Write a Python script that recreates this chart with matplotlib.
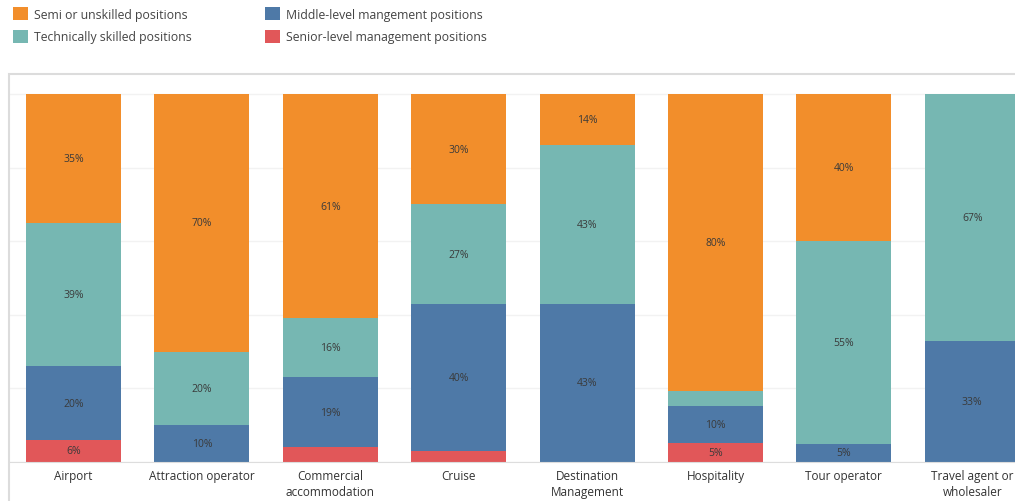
import matplotlib.pyplot as plt
from matplotlib.patches import Rectangle
import numpy as np

plt.rcParams['font.family'] = ['Open Sans', 'DejaVu Sans']

categories = ["Airport", "Attraction operator", "Commercial\naccommodation", "Cruise",
              "Destination\nManagement", "Hospitality", "Tour operator", "Travel agent or\nwholesaler"]
senior = [6, 0, 4, 3, 0, 5, 0, 0]
middle = [20, 10, 19, 40, 43, 10, 5, 33]
technical = [39, 20, 16, 27, 43, 4, 55, 67]
semi = [35, 70, 61, 30, 14, 80, 40, 0]

series = [
    ("Senior-level management positions", senior, "#E15759"),
    ("Middle-level mangement positions", middle, "#4E79A7"),
    ("Technically skilled positions", technical, "#76B7B2"),
    ("Semi or unskilled positions", semi, "#F28E2B"),
]

W, H = 1015, 502
fig = plt.figure(figsize=(W / 100, H / 100), dpi=100)
ax = fig.add_axes([9.3 / W, 39 / H, 1027.2 / W, 388 / H])

x = np.arange(len(categories))
raw = np.array([s[1] for s in series], dtype=float)
totals = raw.sum(axis=0)
norm = raw / totals * 100  # 100% stacked

bottom = np.zeros(len(categories))
handles = {}
for (name, vals, color), h in zip(series, norm):
    bars = ax.bar(x, h, 0.74, bottom=bottom, color=color, zorder=2, label=name)
    handles[name] = bars
    for xi, b, hh, v in zip(x, bottom, h, vals):
        if v >= 5:
            ax.text(xi, b + hh / 2, f"{v}%", ha="center", va="center",
                    fontsize=7.5, color="#3a3a3a", zorder=3)
    bottom += h

ax.set_xlim(-0.5, 7.5)
ax.set_ylim(0, 105.4)
ax.set_yticks([0, 20, 40, 60, 80, 100])
ax.yaxis.grid(True, color="#f2f2f2", lw=1, zorder=0)
ax.tick_params(axis="y", left=False, labelleft=False)
ax.tick_params(axis="x", length=0, pad=5)
ax.set_xticks(x)
ax.set_xticklabels(categories, fontsize=8.5, color="#333333", linespacing=1.3)
for s in ["top", "right", "left"]:
    ax.spines[s].set_visible(False)
ax.spines["bottom"].set_color("#dddddd")

# outer frame around the chart
fig.patches.append(Rectangle((9 / W, -0.1), 2, (H - 75) / H + 0.1, transform=fig.transFigure,
                             fill=False, edgecolor="#dcdcdc", lw=1.5))

order = ["Semi or unskilled positions", "Technically skilled positions",
         "Middle-level mangement positions", "Senior-level management positions"]
fig.legend([handles[n] for n in order], order, ncol=2, loc="upper left",
           bbox_to_anchor=(2 / W, 1 + 3 / H), frameon=False, fontsize=8.8,
           handlelength=1.25, handleheight=1.25, handletextpad=0.45,
           columnspacing=6.0, labelspacing=0.75, labelcolor="#444444")

fig.savefig("out.png", dpi=100)
